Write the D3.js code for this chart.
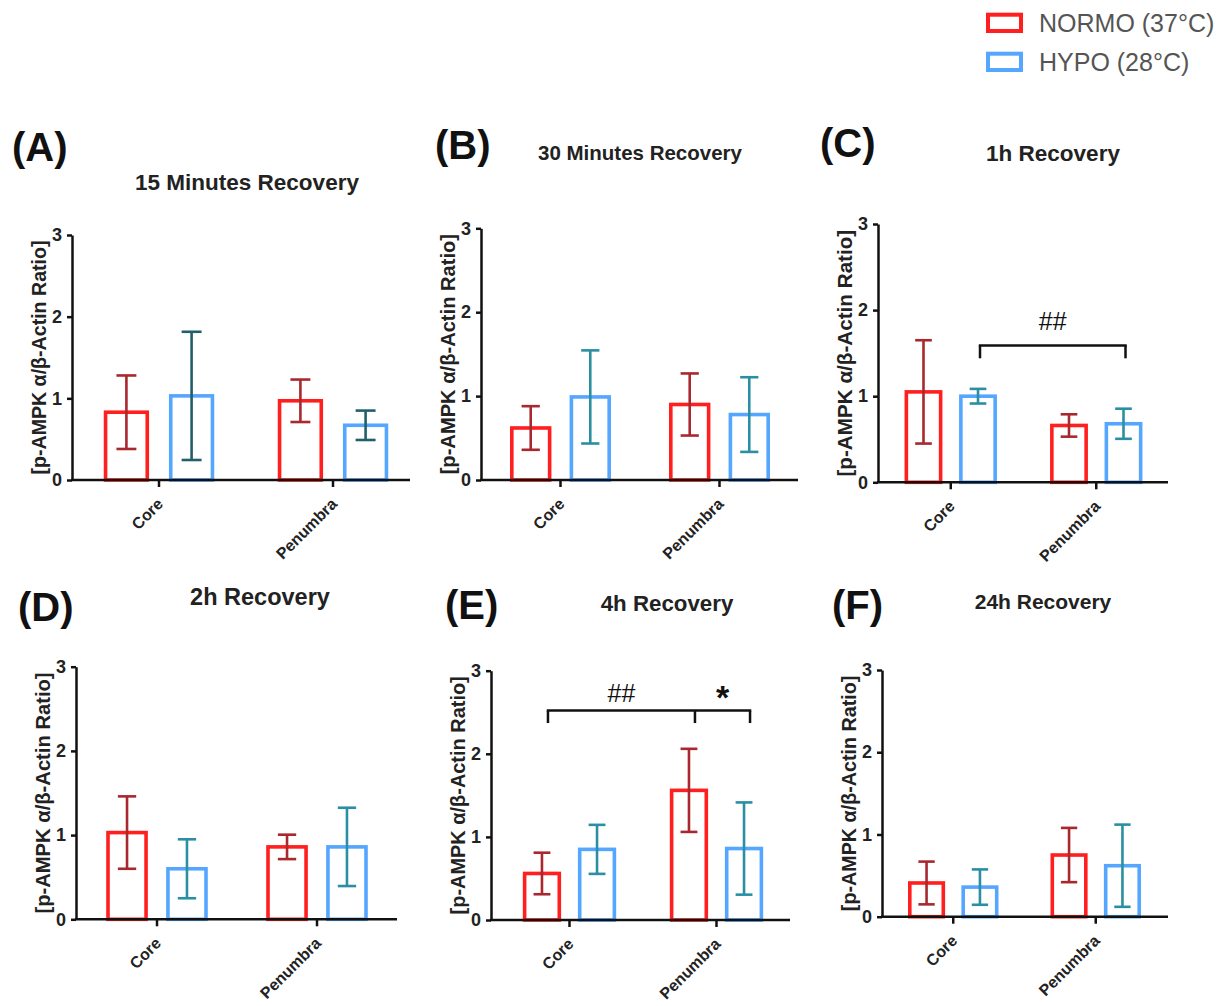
<!DOCTYPE html>
<html>
<head>
<meta charset="utf-8">
<script src="https://cdn.jsdelivr.net/npm/d3@7"></script>
<style>
    body { margin: 0; background: #fff; }
    svg { font-family: "Liberation Sans", Arial, sans-serif; }
</style>
</head>
<body>
<div id="chart"></div>
<script>
// ---- data ----
var categories = ["Core", "Penumbra"];
var groups = ["NORMO (37°C)", "HYPO (28°C)"];
var panelLetters = ["(A)", "(B)", "(C)", "(D)", "(E)", "(F)"];
var panelTitles = ["15 Minutes Recovery", "30 Minutes Recovery", "1h Recovery", "2h Recovery", "4h Recovery", "24h Recovery"];
var yTicks = [0, 1, 2, 3];
var yLabel = "[p-AMPK α/β-Actin Ratio]";

// mean and error per panel, [Core, Penumbra]
var normoMean = [[0.83, 0.97], [0.62, 0.90], [1.05, 0.66], [1.03, 0.86], [0.56, 1.56], [0.41, 0.75]];
var normoErr  = [[0.45, 0.26], [0.26, 0.37], [0.60, 0.13], [0.43, 0.145], [0.25, 0.50], [0.26, 0.33]];
var hypoMean  = [[1.03, 0.67], [0.99, 0.78], [1.00, 0.68], [0.60, 0.86], [0.85, 0.86], [0.36, 0.62]];
var hypoErr   = [[0.785, 0.18], [0.555, 0.445], [0.085, 0.175], [0.35, 0.465], [0.295, 0.555], [0.215, 0.50]];

// significance brackets: [category, group index] of each leg
var brackets = [
    {panel: 2, level: 1.59, legs: [["Core", 1], ["Penumbra", 1]], marks: [{text: "##", from: 0, to: 1, at: 1.87}]},
    {panel: 4, level: 2.52, legs: [["Core", 0], ["Penumbra", 0], ["Penumbra", 1]],
        marks: [{text: "##", from: 0, to: 1, at: 2.73}, {text: "*", from: 1, to: 2, at: 2.78}]}
];

// ---- layout of the six panels (pixels) ----
var layout = [
    {x: 72,  top: 235,   zero: 480,   end: 410,  b0: 0, b1: 348, lx: 12,  ly: 161, tx: 247,  ty: 182, ts: 22.5, shift: 0},
    {x: 481, top: 228.3, zero: 480,   end: 798,  b0: 0, b1: 318, lx: 435, ly: 159, tx: 640,  ty: 153, ts: 20.5, shift: 0},
    {x: 878, top: 224,   zero: 482.3, end: 1168, b0: 0, b1: 291, lx: 820, ly: 157, tx: 1053, ty: 153, ts: 22.5, shift: 2},
    {x: 76,  top: 666.7, zero: 919.3, end: 397,  b0: 1, b1: 321, lx: 18,  ly: 621, tx: 260,  ty: 597, ts: 23.5, shift: 0},
    {x: 491, top: 670.7, zero: 920,   end: 790,  b0: 5, b1: 299, lx: 445, ly: 619, tx: 667,  ty: 603, ts: 22.3, shift: 6},
    {x: 882, top: 670,   zero: 916.7, end: 1168, b0: 0, b1: 285, lx: 832, ly: 619, tx: 1043, ty: 602, ts: 21, shift: 0}
];

var barColor = ["#ff1f1f", "#55a6ff"];
var errColor = ["#a8282e", "#2b8fa3"];
var hypoErrA = "#215f6c";

var svg = d3.select("#chart")
    .append("svg")
    .attr("width", 1228)
    .attr("height", 1006);

// Legend
groups.forEach(function(name, i) {
    svg.append("rect")
        .attr("x", 988).attr("y", 14.7 + i * 39)
        .attr("width", 33).attr("height", 16.3)
        .attr("fill", "none")
        .attr("stroke", barColor[i])
        .attr("stroke-width", 4);
    svg.append("text")
        .attr("x", 1039).attr("y", 23 + i * 39)
        .attr("dy", "0.35em")
        .attr("font-size", 25)
        .attr("fill", "#555")
        .text(name);
});

layout.forEach(function(L, p) {
    var g = svg.append("g");

    var y = d3.scaleLinear().domain([0, 3]).range([L.zero, L.top]);
    var x0 = d3.scaleBand()
        .domain(categories)
        .range([L.x + L.b0, L.x + L.b1])
        .paddingInner(0.365)
        .paddingOuter(0.1825);
    var x1 = d3.scaleBand()
        .domain([0, 1])
        .range([0, x0.bandwidth()])
        .paddingInner(0.305);

    var rows = [];
    categories.forEach(function(c, i) {
        rows.push({cat: c, g: 0, mean: normoMean[p][i], err: normoErr[p][i]});
        rows.push({cat: c, g: 1, mean: hypoMean[p][i], err: hypoErr[p][i]});
    });

    var sw = 3.6;
    var bw = x1.bandwidth();

    // Bars (outlined)
    g.selectAll(".bar")
        .data(rows)
        .enter()
        .append("rect")
        .attr("class", "bar")
        .attr("x", d => x0(d.cat) + x1(d.g) + sw / 2)
        .attr("width", bw - sw)
        .attr("y", d => y(d.mean))
        .attr("height", d => y(0) - y(d.mean))
        .attr("fill", "none")
        .attr("stroke", d => barColor[d.g])
        .attr("stroke-width", sw);

    // Error bars
    var eb = g.selectAll(".err")
        .data(rows)
        .enter()
        .append("g")
        .attr("class", "err")
        .attr("stroke", d => (d.g === 1 && p === 0) ? hypoErrA : errColor[d.g])
        .attr("stroke-width", 2.6);
    var cx = d => x0(d.cat) + x1(d.g) + bw / 2;
    var cap = bw * 0.22;
    eb.append("line")
        .attr("x1", cx).attr("x2", cx)
        .attr("y1", d => y(d.mean - d.err))
        .attr("y2", d => y(d.mean + d.err));
    eb.append("line")
        .attr("x1", d => cx(d) - cap).attr("x2", d => cx(d) + cap)
        .attr("y1", d => y(d.mean + d.err)).attr("y2", d => y(d.mean + d.err));
    eb.append("line")
        .attr("x1", d => cx(d) - cap).attr("x2", d => cx(d) + cap)
        .attr("y1", d => y(d.mean - d.err)).attr("y2", d => y(d.mean - d.err));

    // Y axis
    var yAxis = g.append("g")
        .attr("transform", `translate(${L.x}, 0)`)
        .call(d3.axisLeft(y).tickValues(yTicks).tickSize(5).tickSizeOuter(0).tickPadding(5).tickFormat(d3.format("d")));
    yAxis.select(".domain").attr("stroke", "#111").attr("stroke-width", 2.5);
    yAxis.selectAll(".tick line").attr("stroke", "#111").attr("stroke-width", 2.5);
    yAxis.selectAll(".tick text")
        .style("font-size", "18px")
        .style("font-family", "'Liberation Sans', Arial, sans-serif")
        .style("font-weight", "bold")
        .attr("fill", "#222");

    // X axis
    var xAxis = g.append("g")
        .attr("transform", `translate(0, ${L.zero})`)
        .call(d3.axisBottom(x0).tickSize(7).tickSizeOuter(0));
    xAxis.select(".domain").remove();
    xAxis.selectAll(".tick line").attr("stroke", "#111").attr("stroke-width", 2.5);
    xAxis.selectAll(".tick text")
        .attr("x", 0).attr("y", 0).attr("dy", 0)
        .attr("transform", "translate(5, 25) rotate(-45)")
        .attr("text-anchor", "end")
        .style("font-size", "16px")
        .style("font-family", "'Liberation Sans', Arial, sans-serif")
        .style("font-weight", "bold")
        .attr("fill", "#222");
    g.append("line")
        .attr("x1", L.x - 1).attr("x2", L.end)
        .attr("y1", L.zero).attr("y2", L.zero)
        .attr("stroke", "#111")
        .attr("stroke-width", 2.5);

    // Y label
    var h = L.zero - L.top;
    g.append("text")
        .attr("transform", `translate(${L.x - 33}, ${(L.zero + L.top) / 2}) rotate(-90)`)
        .attr("text-anchor", "middle")
        .attr("dy", "0.35em")
        .attr("font-size", h / 12.5)
        .attr("font-weight", "bold")
        .attr("fill", "#222")
        .text(yLabel);

    // Title and panel letter
    g.append("text")
        .attr("x", L.tx).attr("y", L.ty)
        .attr("dy", "0.35em")
        .attr("text-anchor", "middle")
        .attr("font-size", L.ts)
        .attr("font-weight", "bold")
        .attr("fill", "#222")
        .text(panelTitles[p]);
    g.append("text")
        .attr("x", L.lx).attr("y", L.ly)
        .attr("font-size", 40)
        .attr("font-weight", "bold")
        .attr("fill", "#111")
        .text(panelLetters[p]);

    // Significance brackets
    brackets.filter(b => b.panel === p).forEach(function(b) {
        var xs = b.legs.map(l => x0(l[0]) + x1(l[1]) + bw / 2 + L.shift);
        var drop = 0.15;
        g.append("line")
            .attr("x1", xs[0] - 1.2).attr("x2", xs[xs.length - 1] + 1.2)
            .attr("y1", y(b.level)).attr("y2", y(b.level))
            .attr("stroke", "#111").attr("stroke-width", 2.5);
        xs.forEach(function(xv) {
            g.append("line")
                .attr("x1", xv).attr("x2", xv)
                .attr("y1", y(b.level)).attr("y2", y(b.level - drop))
                .attr("stroke", "#111").attr("stroke-width", 2.5);
        });
        b.marks.forEach(function(m) {
            var star = m.text === "*";
            g.append("text")
                .attr("x", (xs[m.from] + xs[m.to]) / 2)
                .attr("y", y(m.at))
                .attr("dy", star ? "0.58em" : "0.35em")
                .attr("text-anchor", "middle")
                .attr("font-size", star ? 34 : 25)
                .attr("font-weight", star ? "bold" : "normal")
                .attr("fill", "#111")
                .text(m.text);
        });
    });
});
</script>
</body>
</html>
